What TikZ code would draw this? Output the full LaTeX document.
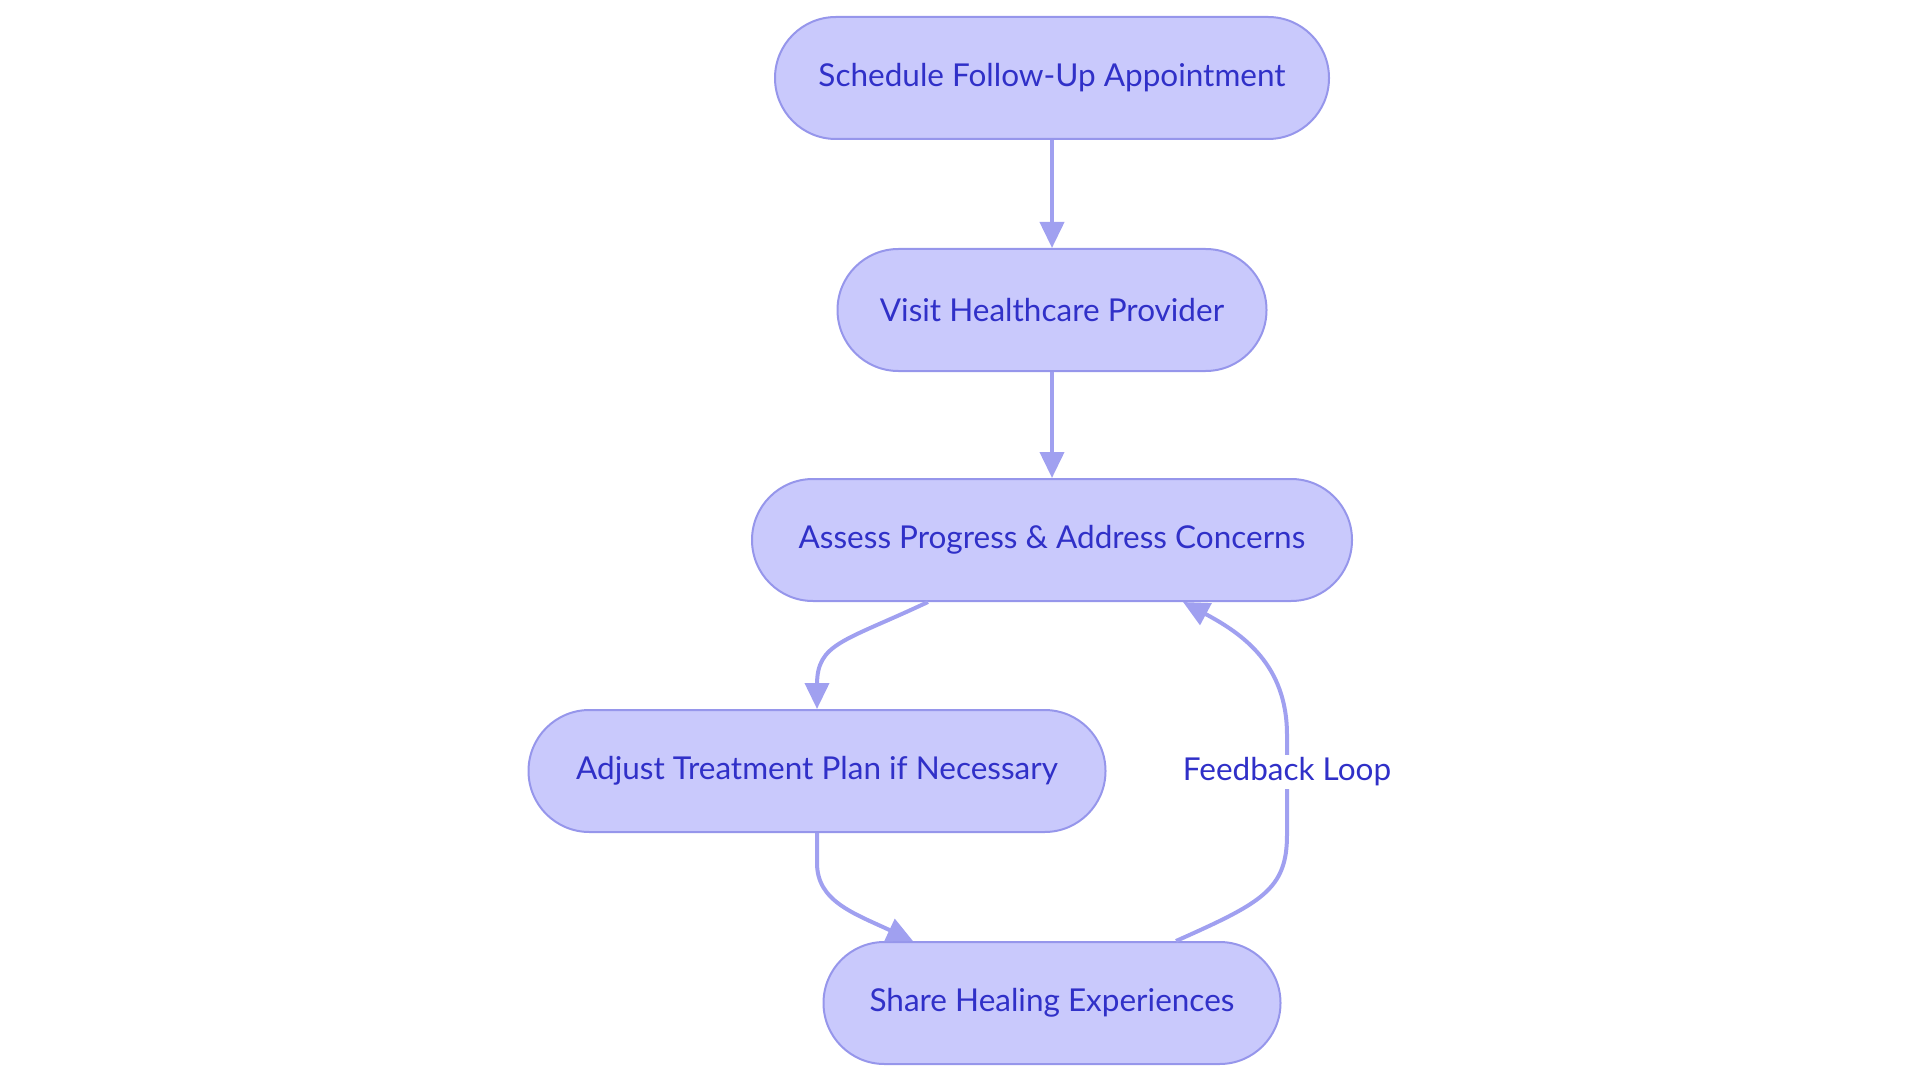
\documentclass[tikz,border=0pt]{standalone}
\usepackage{fontspec}
\setmainfont{Lato}
\usetikzlibrary{arrows.meta}
\definecolor{nodefill}{HTML}{C9C9FC}
\definecolor{nodeline}{HTML}{9696EB}
\definecolor{edgeline}{HTML}{A0A0F0}
\definecolor{txt}{HTML}{3030C8}
\tikzset{
  stadium/.style={draw=nodeline, line width=2pt, fill=nodefill, rounded corners=60.9pt,
    minimum height=122pt, inner sep=0pt, text=txt, font=\fontsize{31.5}{38}\selectfont},
  flow/.style={draw=edgeline, line width=4pt, -{Triangle[length=26pt,width=24pt]}},
  lbl/.style={fill=white, text=txt, inner sep=3pt, font=\fontsize{31.5}{38}\selectfont}
}
\begin{document}
\begin{tikzpicture}[x=1pt,y=-1pt]
\useasboundingbox (0,0) rectangle (1920,1083);
\node[stadium, minimum width=554pt] (sched) at (1052,78) {Schedule Follow-Up Appointment};
\node[stadium, minimum width=429pt] (visit) at (1052,310) {Visit Healthcare Provider};
\node[stadium, minimum width=600pt] (assess) at (1052,540) {Assess Progress \& Address Concerns};
\node[stadium, minimum width=577pt] (adjust) at (817,771) {Adjust Treatment Plan if Necessary};
\node[stadium, minimum width=457pt] (share) at (1052,1003) {Share Healing Experiences};
\coordinate (fbtop) at (1287,735);
\coordinate (fbbot) at (1287,835);
\draw[flow] (sched) -- (visit);
\draw[flow] (visit) -- (assess);
\draw[flow] ([xshift=-124pt]assess.south) .. controls +(-85,40) and +(0,-42) .. ([yshift=24pt]adjust.north) -- (adjust.north);
\draw[flow] (adjust.south) -- ++(0,30) .. controls +(0,38) and +(-60,-28) .. ([xshift=-139pt]share.north);
\draw[draw=edgeline, line width=4pt] ([xshift=124pt]share.north) .. controls +(85,-38) and +(0,55) .. (fbbot) -- (fbtop);
\draw[flow] (fbtop) .. controls +(0,-70) and +(60,32) .. ([xshift=131pt]assess.south);
\node[lbl] (fblabel) at (1287,772) {Feedback Loop};
\end{tikzpicture}
\end{document}
